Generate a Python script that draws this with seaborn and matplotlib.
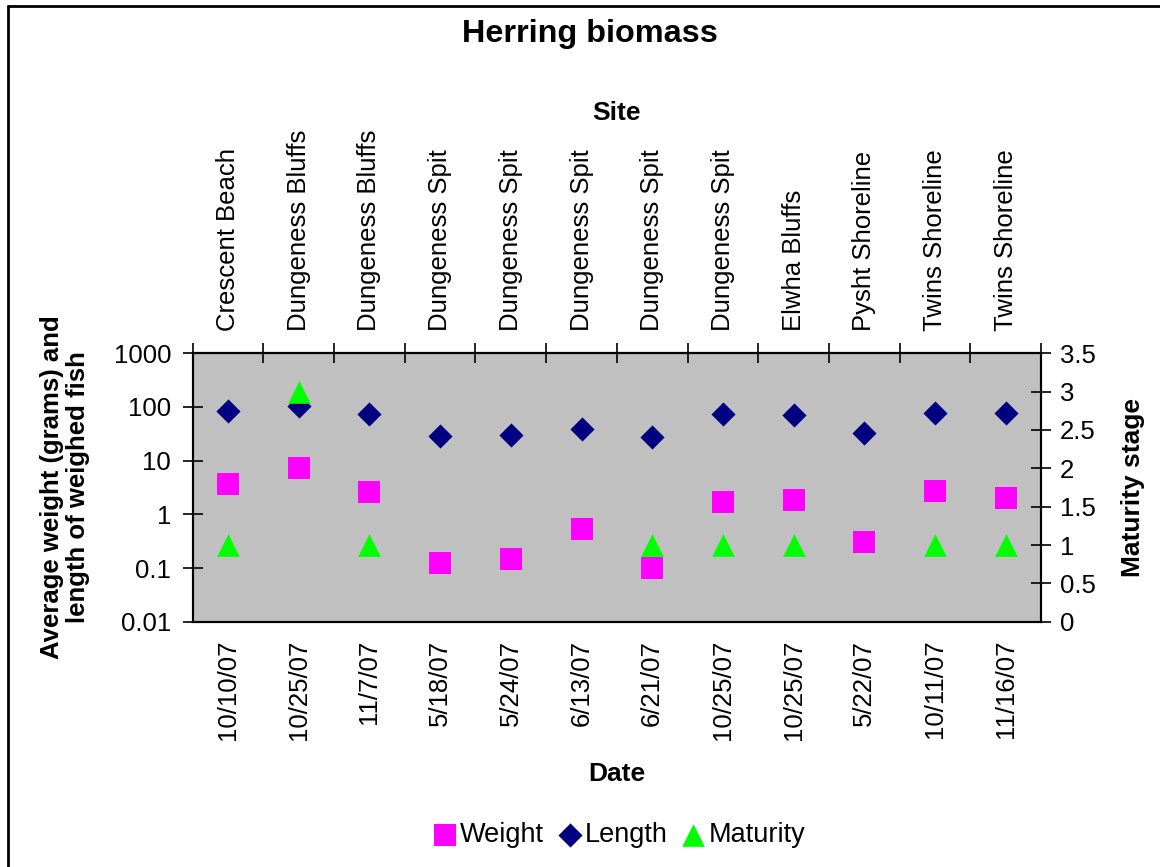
import numpy as np
import pandas as pd
import matplotlib
matplotlib.use("Agg")
import matplotlib.pyplot as plt
from matplotlib.lines import Line2D
import seaborn as sns

sites = ["Crescent Beach", "Dungeness Bluffs", "Dungeness Bluffs", "Dungeness Spit",
         "Dungeness Spit", "Dungeness Spit", "Dungeness Spit", "Dungeness Spit",
         "Elwha Bluffs", "Pysht Shoreline", "Twins Shoreline", "Twins Shoreline"]
dates = ["10/10/07", "10/25/07", "11/7/07", "5/18/07", "5/24/07", "6/13/07",
         "6/21/07", "10/25/07", "10/25/07", "5/22/07", "10/11/07", "11/16/07"]
weight = [3.7, 7.4, 2.65, 0.124, 0.146, 0.54, 0.10, 1.68, 1.85, 0.30, 2.76, 2.05]
length = [85, 105, 75, 28.5, 29.7, 39.5, 27.3, 73, 71, 33, 76, 76.5]
maturity = [1, 3, 1, np.nan, np.nan, np.nan, 1, 1, 1, np.nan, 1, 1]

sns.set_style("white")
plt.rcParams["font.family"] = ["Liberation Sans", "DejaVu Sans"]
plt.rcParams.update({"text.color": "black", "axes.labelcolor": "black",
                     "xtick.color": "black", "ytick.color": "black"})

FS = 18.5
fig = plt.figure(figsize=(11.6, 8.67), dpi=100)
L, R, B, T = 192.7 / 1160, 1041 / 1160, 1 - 621.7 / 867, 1 - 353.3 / 867
ax = fig.add_axes([L, B, R - L, T - B])
ax.set_facecolor("#C0C0C0")

pos = np.arange(len(dates))
df = pd.DataFrame({"pos": pos, "Weight": weight, "Length": length, "Maturity": maturity})

sns.scatterplot(data=df, x="pos", y="Weight", marker="s", s=16.3 ** 2, color="#FF00FF",
                linewidth=0, ax=ax, label="Weight", zorder=3)
sns.scatterplot(data=df, x="pos", y="Length", marker="D", s=12.3 ** 2, color="#000080",
                linewidth=0, ax=ax, label="Length", zorder=3)
ax.set_yscale("log")
ax.set_ylim(0.01, 1000)
ax.set_xlim(-0.5, len(dates) - 0.5)

ax2 = ax.twinx()
sns.scatterplot(data=df, x="pos", y="Maturity", marker="^", s=16.3 ** 2, color="#00FF00",
                linewidth=0, ax=ax2, label="Maturity", zorder=4)
ax2.set_ylim(0, 3.5)
ax2.set_yticks(np.arange(0, 3.51, 0.5))
ax2.set_yticklabels(["0", "0.5", "1", "1.5", "2", "2.5", "3", "3.5"], fontsize=FS)
ax2.set_ylabel("Maturity stage", fontsize=19, fontweight="bold", labelpad=18, color="black")
ax2.tick_params(axis="y", direction="inout", length=15, width=1.2, pad=6, colors="black")
ax2.set_xlim(-0.5, len(dates) - 0.5)

# left axis
ax.set_yticks([0.01, 0.1, 1, 10, 100, 1000])
ax.set_yticklabels(["0.01", "0.1", "1", "10", "100", "1000"], fontsize=FS)
ax.yaxis.set_minor_locator(matplotlib.ticker.NullLocator())
ax.tick_params(axis="y", direction="inout", length=15, width=1.2, pad=8, colors="black")
ax.set_ylabel("Average weight (grams) and\nlength of weighed fish", fontsize=18.5,
              fontweight="bold", labelpad=17, linespacing=1.1, color="black")

# bottom x axis: ticks between categories, labels centered
ax.set_xticks(np.arange(-0.5, len(dates), 1))
ax.set_xticklabels([])
ax.set_xticks(pos, minor=True)
ax.set_xticklabels(dates, minor=True, rotation=90, fontsize=FS)
ax.tick_params(axis="x", which="major", direction="inout", length=15, width=1.2, colors="black")
ax.tick_params(axis="x", which="minor", length=0, pad=13, colors="black")
ax.set_xlabel("Date", fontsize=19, fontweight="bold", labelpad=16, color="black")

# top axis with sites
top = ax.secondary_xaxis("top")
top.set_xticks(np.arange(-0.5, len(dates), 1))
top.set_xticklabels([])
top.set_xticks(pos, minor=True)
top.set_xticklabels(sites, minor=True, rotation=90, fontsize=FS)
top.tick_params(axis="x", which="major", direction="inout", length=15, width=1.2, colors="black")
top.tick_params(axis="x", which="minor", length=0, pad=16, colors="black")
top.set_xlabel("Site", fontsize=19, fontweight="bold", labelpad=7, color="black")

for a in (ax, ax2):
    for sp in a.spines.values():
        sp.set_color("black")
        sp.set_linewidth(1.5)
top.spines["top"].set_linewidth(1.5)
top.spines["top"].set_color("black")

# legend
h1, l1 = ax.get_legend_handles_labels()
h2, l2 = ax2.get_legend_handles_labels()
ax.get_legend().remove()
ax2.get_legend().remove()
fig.legend(h1 + h2, l1 + l2, loc="center", bbox_to_anchor=(617 / 1160, 1 - 835 / 867),
           ncol=3, frameon=False, fontsize=19.5, handletextpad=-0.05, columnspacing=0.35,
           handlelength=1.2, markerscale=1.0, labelcolor="black")

fig.suptitle("Herring biomass", fontsize=23.3, fontweight="bold", x=590 / 1160, y=1 - 34 / 867,
             va="center", color="black")

# chart border
fig.add_artist(Line2D([8 / 1160, 1.0], [1 - 6 / 867, 1 - 6 / 867], color="black", lw=2,
                      transform=fig.transFigure))
fig.add_artist(Line2D([8 / 1160, 8 / 1160], [1 - 6 / 867, 0.0], color="black", lw=2,
                      transform=fig.transFigure))

fig.savefig("out.png", dpi=100)
